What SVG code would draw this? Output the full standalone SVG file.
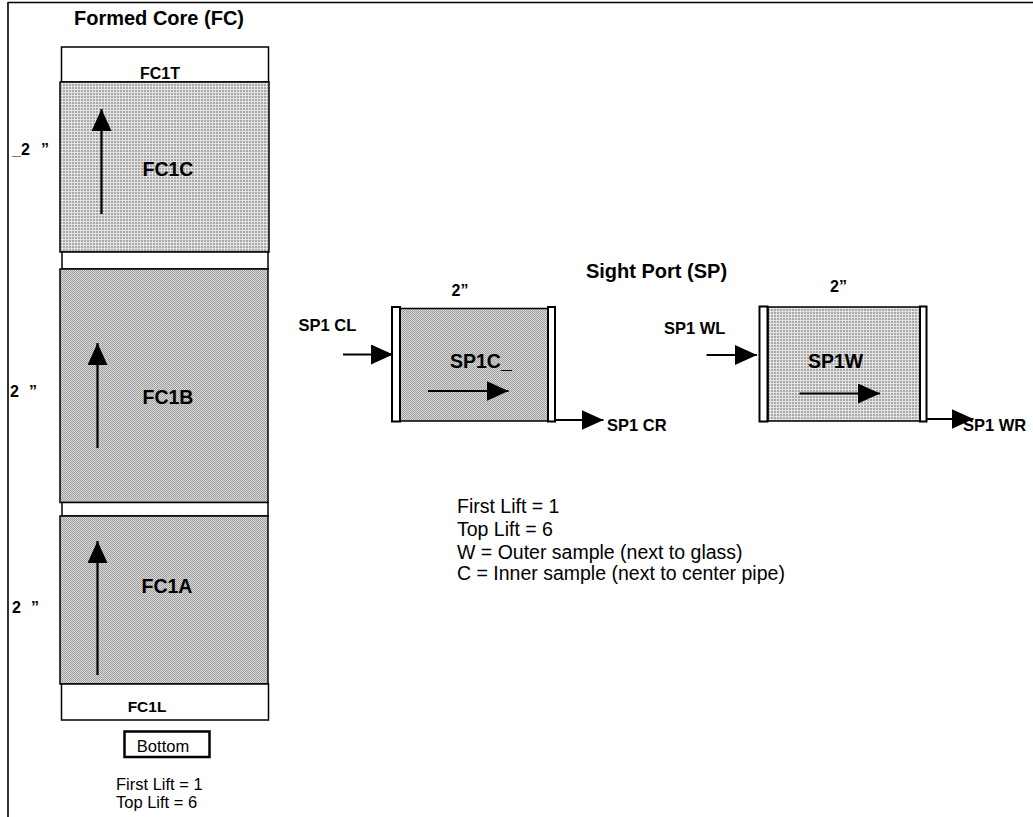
<svg xmlns="http://www.w3.org/2000/svg" width="1033" height="817" viewBox="0 0 1033 817">
<style>
text{font-family:"Liberation Sans",Arial,sans-serif;fill:#000}
.b{font-weight:bold}
.w{fill:#fff;stroke:#000;stroke-width:1.5}
.g1{fill:url(#grid);stroke:#000;stroke-width:1.5}
.g2{fill:url(#check);stroke:#000;stroke-width:1.5}
.strip{fill:#fff;stroke:#000;stroke-width:2}
.arr{stroke:#000;stroke-width:2.2;fill:none;marker-end:url(#ah)}
</style>
<defs>
<pattern id="grid" width="3" height="3" patternUnits="userSpaceOnUse">
<rect width="3" height="3" fill="#e2e2e2"/>
<rect width="2" height="2" fill="#a9a9a9"/>
</pattern>
<pattern id="check" width="2" height="2" patternUnits="userSpaceOnUse">
<rect width="2" height="2" fill="#d6d6d6"/>
<rect width="1" height="1" fill="#a2a2a2"/>
<rect x="1" y="1" width="1" height="1" fill="#a2a2a2"/>
</pattern>
<marker id="ah" markerUnits="userSpaceOnUse" markerWidth="23" markerHeight="20" refX="22" refY="10" orient="auto">
<path d="M0,0 L22,10 L0,20 z" fill="#000"/>
</marker>
</defs>
<rect width="1033" height="817" fill="#fff"/>
<g id="frame">
<line x1="8" y1="2.5" x2="1033" y2="2.5" stroke="#000" stroke-width="1.6"/>
<line x1="8" y1="2" x2="8" y2="817" stroke="#000" stroke-width="1.6"/>
</g>
<text class="b" x="159" y="25" font-size="20" text-anchor="middle">Formed Core (FC)</text>
<g id="FC1T"><rect class="w" x="61.5" y="47" width="207" height="35"/><text class="b" x="160" y="79" font-size="16" text-anchor="middle">FC1T</text></g>
<g id="FC1C"><rect class="g1" x="60" y="82" width="209" height="170"/><text class="b" x="168" y="176" font-size="19.5" text-anchor="middle">FC1C</text></g>
<g id="gap1"><rect class="w" x="62" y="252" width="206" height="17"/></g>
<g id="FC1B"><rect class="g2" x="60" y="269" width="208" height="233.5"/><text class="b" x="168" y="404" font-size="19.5" text-anchor="middle">FC1B</text></g>
<g id="gap2"><rect class="w" x="62" y="502.5" width="206" height="13.5"/></g>
<g id="FC1A"><rect class="g2" x="60" y="516" width="208" height="168"/><text class="b" x="167" y="593" font-size="19.5" text-anchor="middle">FC1A</text></g>
<g id="FC1L"><rect class="w" x="61.5" y="684" width="207" height="36"/><text class="b" x="147" y="712" font-size="15.5" text-anchor="middle">FC1L</text></g>
<g id="bottom"><rect x="124.5" y="731.5" width="85" height="25.5" fill="#fff" stroke="#000" stroke-width="2.5"/><text x="163" y="752" font-size="16.5" text-anchor="middle">Bottom</text></g>
<g id="fc-notes">
<text x="116" y="790" font-size="16.5">First Lift = 1</text>
<text x="116" y="808" font-size="16.5">Top Lift = 6</text>
</g>
<g id="fc-dims">
<text class="b" x="12" y="154.5" font-size="16">_2</text><text class="b" x="41" y="154.5" font-size="16">”</text>
<text class="b" x="10" y="397" font-size="16">2</text><text class="b" x="29" y="397" font-size="16">”</text>
<text class="b" x="12" y="613" font-size="16">2</text><text class="b" x="31" y="613" font-size="16">”</text>
</g>
<text class="b" x="656.5" y="278" font-size="20" text-anchor="middle">Sight Port (SP)</text>
<g id="SP1C">
<rect class="g2" x="400" y="308.5" width="148" height="112.5"/>
<rect class="strip" x="392" y="307" width="8" height="114.5"/>
<rect class="strip" x="548" y="307" width="7" height="114.5"/>
<text class="b" x="451.5" y="295.5" font-size="16">2”</text>
<text class="b" x="450" y="368" font-size="19.5">SP1C_</text>
<text class="b" x="298.5" y="331" font-size="16.5">SP1 CL</text>
<text class="b" x="607" y="431" font-size="16.5">SP1 CR</text>
</g>
<g id="SP1W">
<rect class="g1" x="768" y="307" width="152" height="114"/>
<rect class="strip" x="759.5" y="306.5" width="8" height="115"/>
<rect class="strip" x="920" y="306.5" width="6.5" height="115"/>
<text class="b" x="830" y="292" font-size="16">2”</text>
<text class="b" x="808" y="368" font-size="19.5">SP1W</text>
<text class="b" x="664" y="334" font-size="16.5">SP1 WL</text>
<text class="b" x="963" y="431" font-size="16.5">SP1 WR</text>
</g>
<g id="legend">
<text x="457" y="513" font-size="19.5">First Lift = 1</text>
<text x="457" y="535.5" font-size="19.5">Top Lift = 6</text>
<text x="457" y="558.5" font-size="19.5">W = Outer sample (next to glass)</text>
<text x="457" y="580" font-size="19.5">C = Inner sample (next to center pipe)</text>
</g>
<g id="connectors">
<line class="arr" x1="101.5" y1="214" x2="101.5" y2="109"/>
<line class="arr" x1="97.5" y1="448" x2="97.5" y2="343"/>
<line class="arr" x1="97.5" y1="675" x2="97.5" y2="541"/>
<line class="arr" x1="343" y1="354.5" x2="393" y2="354.5"/>
<line class="arr" x1="428" y1="391" x2="508.5" y2="391"/>
<line class="arr" x1="555" y1="420" x2="603.5" y2="420"/>
<line class="arr" x1="706.5" y1="355" x2="757" y2="355"/>
<line class="arr" x1="799.5" y1="393.5" x2="880" y2="393.5"/>
<line class="arr" x1="926.5" y1="419" x2="973.5" y2="419"/>
</g>
</svg>
